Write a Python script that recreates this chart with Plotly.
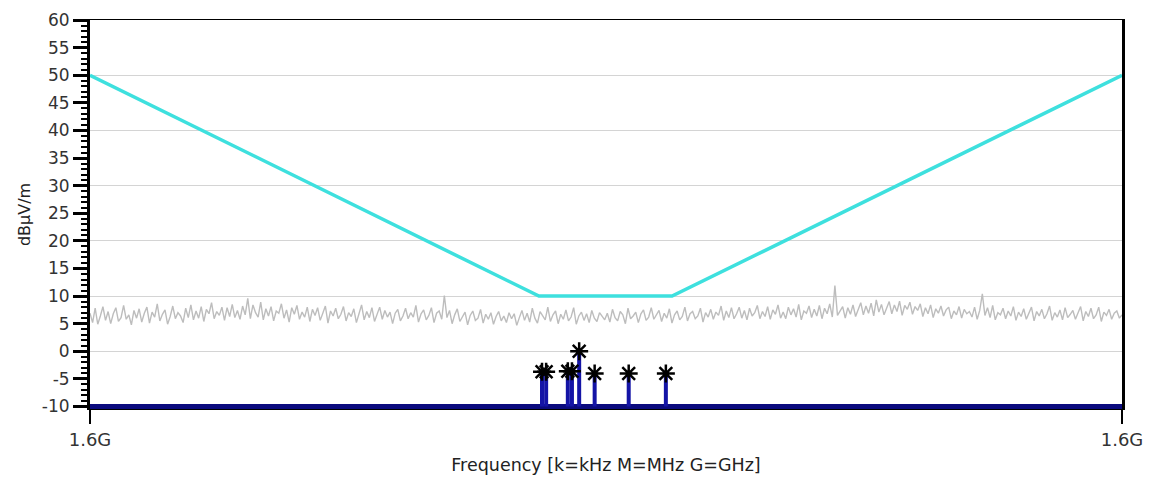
import numpy as np
import plotly.graph_objects as go

# Sweep span (MHz) and tick labels
F_START = 1599.5
F_STOP = 1600.5
X_TICK_TEXT = ["1.6G", "1.6G"]
Y_TICK_VALS = [-10, -5, 0, 5, 10, 15, 20, 25, 30, 35, 40, 45, 50, 55, 60]
Y_TICK_TEXT = ["-10", "-5", "0", "5", "10", "15", "20", "25", "30", "35", "40", "45", "50", "55", "60"]
FLOOR_LEVEL = -10

# Limit mask: corner frequencies (MHz) and levels (dBµV/m)
MASK_FREQ = [1599.5, 1599.935, 1600.064, 1600.5]
MASK_LEVEL = [50, 10, 10, 50]

# Detected peaks
PEAK_FREQ = [1599.938, 1599.942, 1599.963, 1599.967, 1599.974, 1599.989, 1600.022, 1600.058]
PEAK_LEVEL = [-3.7, -3.7, -3.6, -3.6, 0.0, -4.0, -4.0, -4.0]

# Measured trace (dBµV/m) across the sweep
TRACE_LEVEL = [
    6.9, 5.2, 7.8, 4.9, 6.4, 8.1, 5.6, 7.2, 5.0, 6.8, 7.9, 5.4, 6.1, 8.3, 5.8, 6.6, 4.8, 7.4, 6.0, 7.7,
    5.3, 6.9, 8.0, 5.1, 7.1, 6.2, 8.6, 5.5, 6.7, 7.5, 4.9, 6.3, 8.2, 5.9, 7.0, 6.4, 5.2, 7.8, 6.1, 8.4,
    5.7, 7.3, 6.0, 8.1, 5.4, 7.6, 6.8, 8.8, 5.9, 7.2, 6.5, 8.0, 5.6, 7.9, 6.3, 8.5, 6.1, 7.4, 5.8, 8.2,
    6.6, 9.6, 5.9, 8.4, 7.0, 6.2, 8.9, 5.7, 7.7, 6.4, 8.1, 5.5, 7.3, 6.9, 8.6, 6.0, 7.5, 5.3, 7.9, 6.7,
    8.3, 5.8, 7.1, 6.2, 8.0, 5.4, 7.6, 6.5, 7.9, 5.6, 6.9, 8.2, 5.1, 7.3, 6.4, 7.8, 5.9, 6.7, 8.1, 5.5,
    7.0, 6.3, 7.7, 5.2, 6.8, 8.4, 5.7, 7.2, 6.1, 7.9, 5.4, 6.6, 8.0, 5.8, 7.4, 6.2, 7.1, 5.0, 6.9, 7.6,
    5.5, 6.4, 7.8, 5.9, 7.0, 6.2, 8.3, 5.3, 6.8, 7.5, 5.7, 6.5, 7.9, 5.2, 6.9, 7.3, 5.8, 10.1, 6.1, 7.4,
    5.0, 6.6, 7.7, 5.4, 6.2, 7.1, 4.8, 6.5, 7.3, 5.6, 6.0, 7.6, 5.1, 6.7, 5.8, 7.0, 4.9, 6.3, 7.2, 5.5,
    6.4, 5.2, 7.0, 5.9, 6.8, 4.7, 6.1, 7.4, 5.6, 6.9, 5.3, 7.8, 6.0, 5.1, 7.2, 6.5, 5.7, 8.0, 5.4, 6.6,
    7.3, 5.0, 6.7, 5.8, 7.5, 5.5, 6.2, 7.9, 4.9, 6.4, 7.1, 5.6, 6.8, 5.2, 7.4, 6.0, 5.4, 7.0, 6.3, 5.7,
    6.9, 5.3, 7.6, 6.1, 5.5, 7.2, 6.6, 5.0, 7.8, 5.9, 6.4, 7.1, 5.2, 6.8, 7.5, 5.6, 6.2, 7.9, 5.8, 6.5,
    7.4, 5.4, 6.9, 6.0, 7.7, 5.1, 6.6, 7.3, 5.7, 6.3, 8.0, 5.5, 6.8, 7.2, 5.9, 6.4, 7.8, 5.3, 7.0, 6.2,
    7.6, 5.8, 7.1, 6.5, 8.2, 5.6, 7.3, 6.1, 7.9, 5.9, 6.8, 8.0, 6.0, 7.4, 5.7, 7.8, 6.4, 7.0, 8.3, 5.9,
    7.2, 6.3, 8.1, 5.8, 7.5, 6.7, 8.4, 6.0, 7.1, 5.9, 8.0, 6.6, 7.7, 6.2, 8.5, 5.7, 7.3, 6.9, 8.2, 6.1,
    7.6, 6.4, 8.3, 5.9, 7.8, 6.8, 8.6, 6.2, 11.9, 6.5, 7.4, 8.1, 6.0, 7.9, 6.7, 8.4, 6.3, 7.5, 8.8, 6.6,
    8.2, 6.9, 8.7, 6.4, 9.3, 7.1, 8.5, 6.6, 8.0, 9.0, 6.8, 8.4, 7.2, 9.1, 6.5, 8.3, 7.6, 8.9, 6.7, 8.1,
    7.4, 8.6, 6.3, 7.9, 6.8, 8.4, 6.1, 7.7, 6.9, 8.2, 6.4, 7.5, 8.0, 5.9, 7.3, 6.6, 8.1, 6.0, 7.6, 6.8,
    7.2, 6.2, 8.0, 5.8, 7.4, 10.4, 6.5, 7.9, 6.1, 8.3, 5.7, 7.0, 6.6, 7.8, 5.9, 7.3, 6.4, 8.1, 5.6, 7.1,
    6.3, 7.7, 5.8, 6.9, 8.0, 5.5, 7.2, 6.4, 7.6, 5.9, 6.8, 8.2, 5.6, 7.0, 6.2, 7.5, 5.7, 7.9, 6.1, 6.7,
    7.4, 5.8, 6.9, 8.1, 5.5, 7.2, 6.3, 7.8, 5.9, 6.6, 8.0, 5.4, 7.1, 6.5, 7.6, 5.8, 6.9, 7.3, 6.0, 6.6,
]

trace_freq = np.linspace(F_START, F_STOP, len(TRACE_LEVEL))

FONT = "DejaVu Sans"
Y_RANGE = [-10.45, 60]

fig = go.Figure()

# Measured trace
fig.add_trace(go.Scatter(
    x=trace_freq, y=TRACE_LEVEL, mode="lines",
    line=dict(color="#bdbdbd", width=1.4), hoverinfo="skip",
))

# Limit mask
fig.add_trace(go.Scatter(
    x=MASK_FREQ, y=MASK_LEVEL, mode="lines",
    line=dict(color="#3ee0de", width=3.5),
))

# Noise floor baseline
fig.add_trace(go.Scatter(
    x=[F_START, F_STOP], y=[FLOOR_LEVEL, FLOOR_LEVEL], mode="lines",
    line=dict(color="#0b0b7e", width=5),
))

# Peak stems rising from the floor
stem_x, stem_y = [], []
for f, v in zip(PEAK_FREQ, PEAK_LEVEL):
    stem_x += [f, f, None]
    stem_y += [FLOOR_LEVEL, v, None]
fig.add_trace(go.Scatter(
    x=stem_x, y=stem_y, mode="lines",
    line=dict(color="#1414a6", width=4),
))

# Peak markers (on the overlay axis, which also carries the 10 dB grid)
fig.add_trace(go.Scatter(
    x=PEAK_FREQ, y=PEAK_LEVEL, mode="markers", yaxis="y2",
    marker=dict(symbol="asterisk-open", size=15, color="black",
                line=dict(color="black", width=2.5)),
))

fig.update_layout(
    width=1151, height=480,
    margin=dict(l=90, r=29, t=20, b=71),
    plot_bgcolor="white", paper_bgcolor="white",
    showlegend=False,
    font=dict(family=FONT, color="#222222"),
    xaxis=dict(
        range=[F_START, F_STOP], automargin=False,
        tickvals=[F_START, F_STOP], ticktext=X_TICK_TEXT,
        ticks="outside", ticklen=14, tickwidth=2, tickcolor="black",
        tickfont=dict(size=18, family=FONT, color="#333333"),
        showline=True, linecolor="black", linewidth=1, mirror=True,
        showgrid=False, zeroline=False,
        title=dict(text="Frequency [k=kHz M=MHz G=GHz]",
                   font=dict(size=17.5, family=FONT, color="#222222"), standoff=10),
    ),
    yaxis=dict(
        range=Y_RANGE, automargin=False,
        tickmode="array", tickvals=Y_TICK_VALS, ticktext=Y_TICK_TEXT,
        ticks="outside", ticklen=14, tickwidth=3, tickcolor="black",
        tickfont=dict(size=17, family=FONT, color="#333333"),
        minor=dict(dtick=1, tick0=0, ticks="outside", ticklen=6, tickwidth=2,
                   tickcolor="black", showgrid=False),
        showline=True, linecolor="black", linewidth=3, mirror=True,
        showgrid=False, zeroline=False,
        title=dict(text="dBµV/m", font=dict(size=16, family=FONT, color="#222222"), standoff=8),
    ),
    yaxis2=dict(
        overlaying="y", range=Y_RANGE, automargin=False,
        dtick=10, tick0=0,
        showgrid=True, gridcolor="#d4d4d4", gridwidth=1,
        showticklabels=False, ticks="", showline=False, zeroline=False,
    ),
)

fig.write_html("out.html")
